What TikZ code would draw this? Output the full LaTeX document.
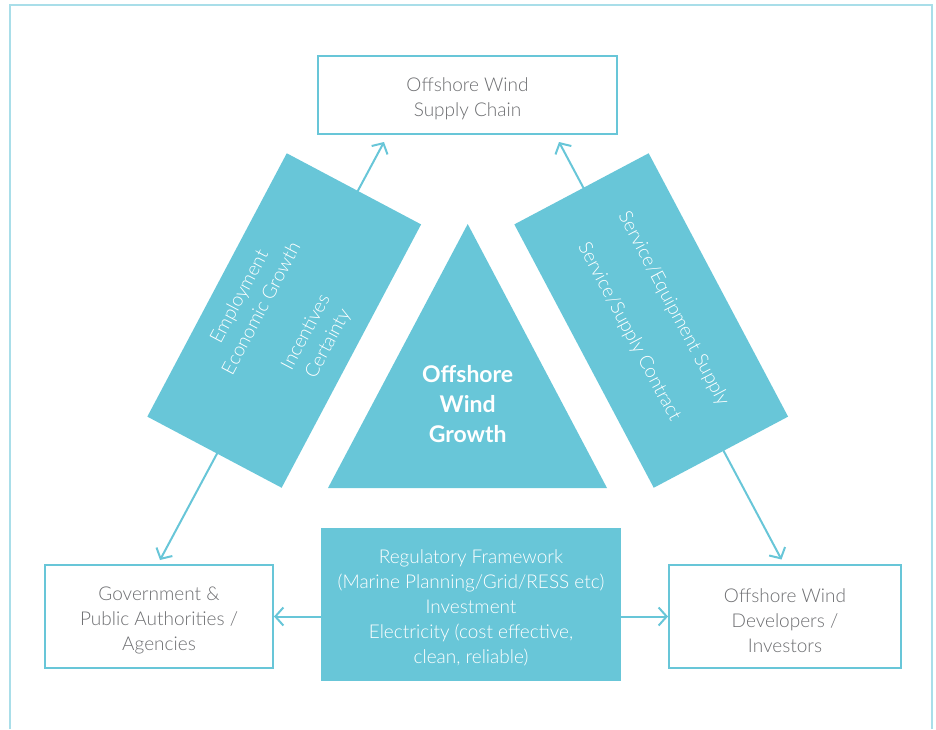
\documentclass[tikz,border=0pt]{standalone}
\usepackage{fontspec}
\setmainfont{Lato Light}[BoldFont=Lato Bold]
\usepackage{tikz}
\usetikzlibrary{arrows.meta}

\definecolor{windteal}{HTML}{68C6D8}
\definecolor{framecol}{HTML}{A9DEE9}
\definecolor{textgrey}{HTML}{6D6E71}

\begin{document}
\begin{tikzpicture}[
            x=0.5pt,y=-0.5pt,
            every node/.append style={align=center,inner sep=0pt,font=\fontsize{9.5}{12.5}\selectfont},
            whitebox/.style={draw=windteal,line width=1pt,fill=white},
            tealbox/.style={fill=windteal,text=white},
            boxtext/.style={label={[shift={(0,-2pt)},align=center,text=#1]center:\boxlines}},
            flow/.style={draw=windteal,line width=1pt,{Straight Barb[length=4pt,width=9pt]}-{Straight Barb[length=4pt,width=9pt]}},
            oneway/.style={draw=windteal,line width=1pt,-{Straight Barb[length=4pt,width=9pt]}}
        ]
            \useasboundingbox (0,0) rectangle (936,729);
            \draw[framecol,line width=0.6pt] (10,729) -- (10,5) -- (932,5) -- (932,729);

            % corner boxes
            \def\boxlines{Offshore Wind\\Supply Chain}
            \node (supply) [whitebox,boxtext=textgrey,minimum width=149.5pt,minimum height=39pt] at (467.5,95) {};
            \def\boxlines{Government \&\\Public Authorities /\\Agencies}
            \node (govt)   [whitebox,boxtext=textgrey,minimum width=114pt,minimum height=51.5pt] at (159,616.5) {};
            \def\boxlines{Offshore Wind\\Developers /\\Investors}
            \node (devs)   [whitebox,boxtext=textgrey,minimum width=116pt,minimum height=51.5pt] at (785,616.5) {};

            % arrows behind the slanted bars
            \coordinate (leftlow)   at (160,560);
            \coordinate (lefthigh)  at (384,142);
            \coordinate (rightlow)  at (781.5,559.5);
            \coordinate (righthigh) at (559,142);
            \draw[flow] (leftlow) -- (lefthigh);
            \draw[flow] (rightlow) -- (righthigh);

            \node (public)  [tealbox,minimum width=149pt,minimum height=76pt,rotate=62.1] at (284.2,320.5)
                {Employment\\Economic Growth\\[12.5pt]Incentives\\Certainty};
            \node (service) [tealbox,minimum width=149pt,minimum height=76pt,rotate=-62.1] at (651.2,320.5)
                {Service/Equipment Supply\\[12.5pt]Service/Supply Contract};

            % growth triangle
            \coordinate (apex) at (467.7,224);
            \coordinate (baseL) at (328,488);
            \coordinate (baseR) at (607,488);
            \fill[windteal] (apex) -- (baseL) -- (baseR) -- cycle;
            \node (growth) [text=white,font=\fontsize{11.5}{15}\selectfont\bfseries] at (467.7,404) {Offshore\\Wind\\Growth};

            % policy box
            \def\boxlines{Regulatory Framework\\(Marine Planning/Grid/RESS etc)\\Investment\\Electricity (cost effective,\\clean, reliable)}
            \node (policy) [tealbox,boxtext=white,minimum width=150pt,minimum height=76.5pt] at (471,604) {};
            \draw[oneway] (policy.west |- govt.east) -- (govt.east);
            \draw[oneway] (policy.east |- devs.west) -- (devs.west);
        \end{tikzpicture}
\end{document}
